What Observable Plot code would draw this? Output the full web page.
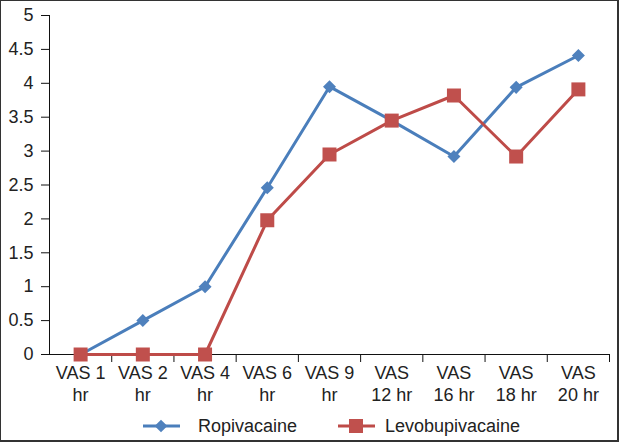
<!DOCTYPE html>
<html>
<head>
<meta charset="utf-8">
<script src="https://cdn.jsdelivr.net/npm/d3@7"></script>
<script src="https://cdn.jsdelivr.net/npm/@observablehq/plot@0.6"></script>
<style>
  html, body { margin: 0; padding: 0; background: #fff; }
  #wrap { position: relative; width: 619px; height: 442px; overflow: hidden; background: #fff;
          font-family: "Liberation Sans", Arial, Helvetica, sans-serif; color: #222; }
  #border { position: absolute; left: 0; top: 0; width: 619px; height: 442px; box-sizing: border-box;
            border: 1px solid #333; border-right-width: 2px; border-bottom-width: 2px; pointer-events: none; }
  #legend { position: absolute; left: 0; top: 410px; width: 619px; height: 32px; font-size: 18px; }
  .item { position: absolute; top: 0; height: 32px; display: flex; align-items: center; }
</style>
</head>
<body>
<div id="wrap">
  <div id="chart"></div>
  <div id="legend"></div>
  <div id="border"></div>
</div>
<script>
const categories = ["VAS 1 hr", "VAS 2 hr", "VAS 4 hr", "VAS 6 hr", "VAS 9 hr", "VAS 12 hr", "VAS 16 hr", "VAS 18 hr", "VAS 20 hr"];
const xLabels = ["VAS 1\nhr", "VAS 2\nhr", "VAS 4\nhr", "VAS 6\nhr", "VAS 9\nhr", "VAS\n12 hr", "VAS\n16 hr", "VAS\n18 hr", "VAS\n20 hr"];
const ropivacaine = [0, 0.5, 1, 2.46, 3.95, 3.45, 2.92, 3.94, 4.41];
const levobupivacaine = [0, 0, 0, 1.98, 2.95, 3.45, 3.82, 2.92, 3.91];
const yTicks = [0, 0.5, 1, 1.5, 2, 2.5, 3, 3.5, 4, 4.5, 5];
const seriesNames = ["Ropivacaine", "Levobupivacaine"];

const blue = "#4A7EBB", blueM = "#4F81BD";
const red = "#BE4B48", redM = "#C0504D";

const ropi = categories.map((c, i) => ({i: i + 0.5, v: ropivacaine[i]}));
const levo = categories.map((c, i) => ({i: i + 0.5, v: levobupivacaine[i]}));
const labels = categories.map((c, i) => ({i: i + 0.5, t: xLabels[i]}));
const bounds = d3.range(1, categories.length + 1);

const chart = Plot.plot({
  width: 619,
  height: 410,
  marginLeft: 49,
  marginRight: 10,
  marginTop: 15,
  marginBottom: 56,
  style: {fontFamily: '"Liberation Sans", Arial, Helvetica, sans-serif', fontSize: "18px", color: "#222", background: "transparent"},
  x: {type: "linear", domain: [0, categories.length]},
  y: {type: "linear", domain: [0, 5]},
  marks: [
    Plot.axisY({ticks: yTicks, tickSize: 8, tickPadding: 8, tickFormat: d => String(d), label: null, stroke: "#111", fill: "#222", fontSize: 18}),
    Plot.axisX({ticks: bounds, tickSize: 8, tickFormat: () => "", label: null, stroke: "#111"}),
    Plot.ruleX([0], {y1: 0, y2: 5, stroke: "#111"}),
    Plot.ruleY([0], {stroke: "#111"}),
    Plot.text(labels, {x: "i", y: 0, text: "t", dy: 9, lineAnchor: "top", lineHeight: 1.22, fontSize: 18, fill: "#222"}),
    Plot.line(ropi, {x: "i", y: "v", stroke: blue, strokeWidth: 3}),
    Plot.dot(ropi, {x: "i", y: "v", symbol: "square", r: 5.2, rotate: 45, fill: blueM, stroke: "none"}),
    Plot.line(levo, {x: "i", y: "v", stroke: red, strokeWidth: 3}),
    Plot.dot(levo, {x: "i", y: "v", symbol: "square", r: 7.9, fill: redM, stroke: "none"})
  ]
});
document.getElementById("chart").appendChild(chart);

const legend = document.getElementById("legend");
const items = [
  {name: seriesNames[0], color: blue, m: blueM, shape: "diamond", left: 143},
  {name: seriesNames[1], color: red, m: redM, shape: "square", left: 338}
];
items.forEach(it => {
  const div = document.createElement("div");
  div.className = "item";
  div.style.left = it.left + "px";
  const marker = it.shape === "diamond"
    ? `<rect x="13.5" y="4.5" width="9" height="9" fill="${it.m}" transform="rotate(45 18 9)"/>`
    : `<rect x="11" y="2" width="14" height="14" fill="${it.m}"/>`;
  div.innerHTML = `<svg width="37" height="18" style="display:block"><line x1="0" x2="37" y1="9" y2="9" stroke="${it.color}" stroke-width="3"/>${marker}</svg>` +
    `<span style="margin-left:${it.shape === "diamond" ? 18 : 10}px">${it.name}</span>`;
  legend.appendChild(div);
});
</script>
</body>
</html>
